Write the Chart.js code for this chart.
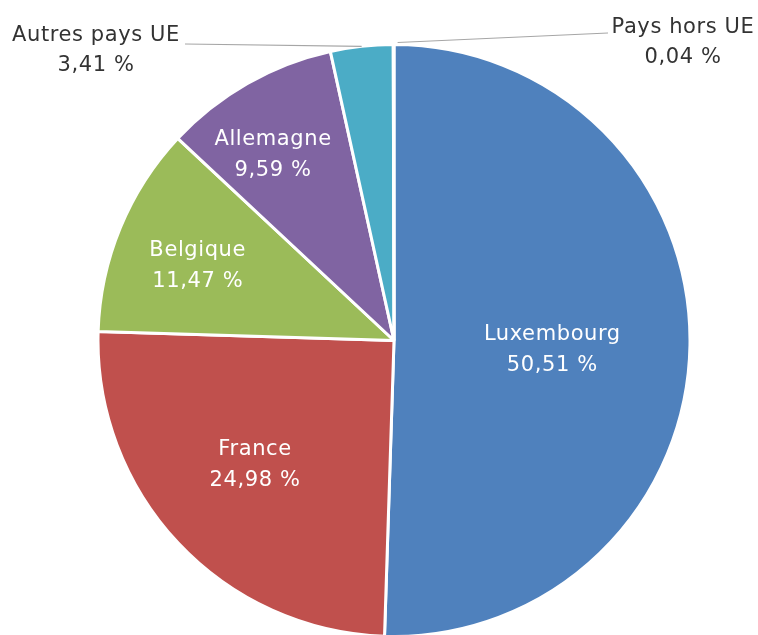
<!DOCTYPE html>
<html>
<head>
<meta charset="utf-8">
<script src="https://cdn.jsdelivr.net/npm/chart.js@4"></script>
<style>
  html, body { margin: 0; padding: 0; background: #fff; }
  #wrap { width: 758px; height: 635px; }
</style>
</head>
<body>
<div id="wrap"><canvas id="pie"></canvas></div>
<script>
const countries = ["Luxembourg", "France", "Belgique", "Allemagne", "Autres pays UE", "Pays hors UE"];
const shares = [50.51, 24.98, 11.47, 9.59, 3.41, 0.04];
const colors = ["#4F81BD", "#C0504D", "#9BBB59", "#8064A2", "#4BACC6", "#F79646"];

const fmt = (v) => v.toFixed(2).replace(".", ",") + " %";

// labels: inside ones sit on the mid-angle, outside ones get a leader line
const labelPlugin = {
  id: "pieLabels",
  afterDatasetsDraw(chart, args, opts) {
    const ctx = chart.ctx;
    const arcs = chart.getDatasetMeta(0).data;
    ctx.save();
    ctx.font = opts.font;
    ctx.letterSpacing = opts.spacing;
    ctx.textAlign = "center";
    ctx.textBaseline = "middle";
    arcs.forEach((arc, i) => {
      const mid = (arc.startAngle + arc.endAngle) / 2;
      const out = opts.outside[i];
      if (!out) {
        const [frac, nx, ny] = opts.inside[i];
        const r = arc.outerRadius * frac;
        const x = arc.x + Math.cos(mid) * r + nx;
        const y = arc.y + Math.sin(mid) * r + ny;
        ctx.fillStyle = "#fff";
        ctx.fillText(countries[i], x, y - 15.5);
        ctx.fillText(fmt(shares[i]), x, y + 15.5);
        return;
      }
      // edge point of the slice
      const ex = arc.x + Math.cos(mid) * arc.outerRadius;
      const ey = arc.y + Math.sin(mid) * arc.outerRadius;
      ctx.strokeStyle = "#A6A6A6";
      ctx.lineWidth = 1.2;
      ctx.beginPath();
      ctx.moveTo(ex + out.dx, ey + out.dy);
      ctx.lineTo(out.lineX, out.lineY);
      ctx.stroke();
      ctx.fillStyle = "#333";
      ctx.fillText(countries[i], out.x, out.y);
      ctx.fillText(fmt(shares[i]), out.x, out.y + 30);
    });
    ctx.restore();
  },
};

new Chart(document.getElementById("pie"), {
  type: "pie",
  data: {
    labels: countries,
    datasets: [
      {
        data: shares,
        backgroundColor: colors,
        borderColor: "#fff",
        borderWidth: 3,
      },
    ],
  },
  options: {
    responsive: true,
    maintainAspectRatio: false,
    animation: false,
    radius: 296,
    layout: { padding: { top: 46, bottom: -3, left: 98, right: 68 } },
    plugins: {
      legend: { display: false },
      tooltip: { enabled: false },
      pieLabels: {
        font: "21px 'DejaVu Sans'",
        spacing: "0.6px",
        inside: [
          [0.535, 0, 7],
          [0.63, -3, -3],
          [0.71, -2, 6],
          [0.75, -11, 7],
        ],
        outside: [
          null, null, null, null,
          { x: 96, y: 36, dx: 0, dy: 0, lineX: 185, lineY: 44 },
          { x: 683, y: 28, dx: 4, dy: -2, lineX: 608, lineY: 33 },
        ],
      },
    },
  },
  plugins: [labelPlugin],
});
</script>
</body>
</html>
